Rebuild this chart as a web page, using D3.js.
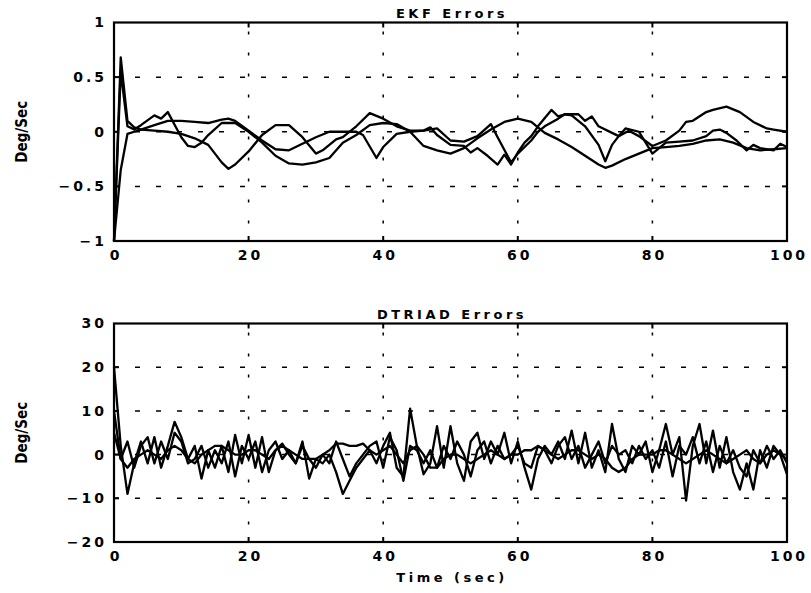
<!DOCTYPE html>
<html>
<head>
<meta charset="utf-8">
<script src="https://cdn.jsdelivr.net/npm/d3@7"></script>
<style>
    body { margin: 0; background: #fff; }
    svg { display: block; background: #fff; }
    .tick-label { font-family: "DejaVu Sans", sans-serif; font-weight: bold; font-size: 14px; letter-spacing: 3px; fill: #000; }
    .title { font-family: "DejaVu Sans", sans-serif; font-weight: bold; font-size: 13px; letter-spacing: 3.5px; fill: #000; }
    .ylabel { font-family: "Liberation Sans Narrow", "DejaVu Sans Condensed", sans-serif; font-weight: bold; font-size: 15px; fill: #000; }
</style>
</head>
<body>
<svg id="chart" width="811" height="593"></svg>
<script>
// EKF errors, [time (sec), deg/sec]
const ekfRoll = [[0,-1],[1,0.55],[2,0.05],[3,0.02],[4,0.06],[6,0.15],[7,0.12],[8,0.18],[10,-0.05],[11,-0.13],[12,-0.14],[13,-0.1],[14,-0.03],[16,0.08],[18,0.08],[20,0],[22,-0.1],[24,-0.22],[26,-0.29],[28,-0.3],[30,-0.28],[32,-0.24],[34,-0.1],[36,-0.03],[38,0.06],[40,0.08],[42,0.07],[44,0],[46,-0.13],[48,-0.17],[50,-0.2],[52,-0.15],[54,-0.06],[56,0.02],[58,0.09],[60,0.12],[62,0.09],[64,-0.01],[66,-0.07],[68,-0.14],[70,-0.22],[72,-0.3],[73,-0.33],[74,-0.31],[76,-0.25],[78,-0.2],[80,-0.15],[82,-0.14],[84,-0.13],[86,-0.11],[88,-0.08],[90,-0.07],[92,-0.1],[94,-0.15],[96,-0.17],[98,-0.16],[100,-0.15]];
const ekfPitch = [[0,-1],[1,-0.35],[2,-0.02],[3,0],[4,0.02],[6,0.06],[8,0.1],[10,0.1],[12,0.09],[14,0.08],[16,0.11],[17,0.12],[18,0.1],[20,0.01],[22,-0.08],[24,-0.16],[26,-0.17],[28,-0.11],[30,-0.05],[32,0],[34,0],[36,0],[37,-0.03],[39,-0.24],[40,-0.14],[42,-0.02],[44,0],[46,0.01],[47,0.04],[48,-0.03],[50,-0.12],[52,-0.13],[53,-0.19],[54,-0.15],[55.5,-0.22],[57,-0.3],[58,-0.21],[59,-0.3],[60,-0.19],[61,-0.1],[62,-0.04],[63,0.05],[65,0.2],[66,0.14],[67,0.16],[69,0.16],[70,0.1],[71,0.14],[72,0.05],[74,-0.01],[75,-0.04],[76.5,0.01],[78,-0.04],[80,-0.13],[82,-0.08],[84,0.01],[85,0.09],[86,0.1],[88,0.18],[89,0.2],[91,0.23],[93,0.18],[95,0.09],[97,0.03],[98,0.02],[100,0]];
const ekfYaw = [[0,-1],[1,0.68],[2,0.1],[3,0.04],[4,0.02],[6,0.01],[8,0],[10,-0.02],[12,-0.06],[14,-0.12],[16,-0.28],[17,-0.34],[18,-0.3],[20,-0.18],[22,-0.03],[24,0.06],[26,0.06],[28,-0.05],[30,-0.2],[31,-0.17],[33,-0.07],[34,-0.05],[36,0.05],[38,0.17],[40,0.12],[42,0.05],[44,0.01],[46,0.01],[48,0.03],[50,-0.08],[52,-0.09],[54,-0.04],[56,0.07],[57,-0.05],[59,-0.28],[60,-0.2],[62,-0.08],[63,0],[64,0.05],[66,0.12],[67,0.16],[68,0.15],[70,0.05],[72,-0.12],[73,-0.27],[74,-0.12],[75,-0.04],[76,0.03],[78,0],[80,-0.2],[82,-0.1],[84,-0.09],[86,-0.08],[88,-0.04],[89,0.01],[90,0.02],[91,-0.01],[92.5,-0.08],[94,-0.17],[95,-0.12],[96,-0.15],[98,-0.17],[99,-0.11],[100,-0.14]];

// DTRIAD errors, one sample per second from 0 to 100 sec
const triadTimes = d3.range(0, 101);
const triadRoll = [20,2,-9,-2,3,-2,4,-3,2,7.5,
    4,-1,2,-5.5,1,-3,2,-4,4.5,-2,
    4.5,-3,4,-4,1,2.5,0,-2,3,-5.5,
    -1,-2,0,-4,-9,-6,-3,-1,1,-2,
    2,5,-3,-5,10.5,2,-4.5,-2,6.5,-3,
    6.5,-2,-6,3,5,-1,3,0,5,-2,
    3,-3,-8,-1,2,0,3,-1,5.5,-2,
    5,-3,1,-4,7,-1,-4,2,0,3,
    -4,1,7,0,4,-10.5,2,7,-2,5.5,
    -3,4,-4,-8,-2,-8,1,-3,2,0,
    -4.5];
const triadPitch = [10,-1,3,-3,2,4,-2,3,-1,5,
    3,-2,-1,2,-3,1,-2,3,-5,2,
    -1,3,-4,1,3,-1,1,-2,2,-1,
    -3,0,-2,3,-1,-5,-2,0,2,3,
    -3,4,1,-6,2,1,-2,1,-3,2,
    -1,3,0,-5,1,3,-2,2,-1,0,
    2,-2,-3,2,1,-2,2,4,-1,2,
    -3,0,3,-2,2,0,1,-2,2,-1,
    1,-3,3,-5,2,0,4,-2,3,-4,
    2,-2,1,-3,-5,1,-2,2,-1,1,
    -2];
const triadYaw = [5,-1,-3,-1,0,1,0,-1,1,2,
    1,-1,-2,0,1,2,2,1,0,0,
    1,1,0,-1,1,2,1,0,-1,-1,
    -1,0,1,2.5,2.5,2,2,2.5,1,0,
    1,2,0,-2,1,2,0,-3,-3,-1,
    0,0,-1,-2,-1,0,1,0,-1,0,
    0,1,1,2,1,0,-1,0,1,1,
    0,-1,0,-1,-3,-4,-3,-1,0,0,
    0,1,1,0,-1,-2,-1,0,1,0,
    -1,-2,-1,0,1,-1,-2,0,1,0,
    -1];

const xTicks = [0, 20, 40, 60, 80, 100];
const ekfTicks = [-1, -0.5, 0, 0.5, 1];
const triadTicks = [-20, -10, 0, 10, 20, 30];

const svg = d3.select('#chart');

const plotLeft = 114, plotRight = 787;

/**
 * Draws one framed panel with dashed grid, tick labels and the three error traces
 */
function drawPanel(opts) {
    const x = d3.scaleLinear().domain([0, 100]).range([plotLeft, plotRight]);
    const y = d3.scaleLinear().domain(opts.yDomain).range([opts.bottom, opts.top]);
    const g = svg.append('g');

    // dashed grid
    g.append('g')
        .selectAll('line')
        .data(opts.yTicks.slice(1, -1))
        .join('line')
        .attr('x1', plotLeft).attr('x2', plotRight)
        .attr('y1', d => y(d)).attr('y2', d => y(d))
        .attr('stroke', '#000')
        .attr('stroke-width', 1.5)
        .attr('stroke-dasharray', '5,16');

    g.append('g')
        .selectAll('line')
        .data(xTicks.slice(1, -1))
        .join('line')
        .attr('x1', d => x(d)).attr('x2', d => x(d))
        .attr('y1', opts.top).attr('y2', opts.bottom)
        .attr('stroke', '#000')
        .attr('stroke-width', 1.5)
        .attr('stroke-dasharray', '3,18')
        .attr('stroke-dashoffset', -9);

    // inner tick marks on all four sides
    const ticks = g.append('g').attr('stroke', '#000').attr('stroke-width', 2);
    xTicks.slice(1, -1).forEach(t => {
        ticks.append('line').attr('x1', x(t)).attr('x2', x(t)).attr('y1', opts.top).attr('y2', opts.top + 5);
        ticks.append('line').attr('x1', x(t)).attr('x2', x(t)).attr('y1', opts.bottom).attr('y2', opts.bottom - 5);
    });
    opts.yTicks.slice(1, -1).forEach(t => {
        ticks.append('line').attr('x1', plotRight).attr('x2', plotRight - 5).attr('y1', y(t)).attr('y2', y(t));
        ticks.append('line').attr('x1', plotLeft).attr('x2', plotLeft + 5).attr('y1', y(t)).attr('y2', y(t));
    });

    // traces
    const line = d3.line()
        .x(d => x(d[0]))
        .y(d => y(d[1]));

    g.append('g')
        .attr('fill', 'none')
        .attr('stroke', '#000')
        .attr('stroke-width', 2.3)
        .attr('stroke-linejoin', 'round')
        .selectAll('path')
        .data(opts.series)
        .join('path')
        .attr('d', line);

    // frame
    g.append('rect')
        .attr('x', plotLeft).attr('y', opts.top)
        .attr('width', plotRight - plotLeft).attr('height', opts.bottom - opts.top)
        .attr('fill', 'none')
        .attr('stroke', '#000')
        .attr('stroke-width', 2.2);

    // axis labels
    const yAxis = g.append('g')
        .attr('transform', `translate(${plotLeft},0)`)
        .call(d3.axisLeft(y).tickValues(opts.yTicks).tickSize(0).tickPadding(10).tickFormat(d3.format('')));
    const xAxis = g.append('g')
        .attr('transform', `translate(0,${opts.bottom})`)
        .call(d3.axisBottom(x).tickValues(xTicks).tickSize(0).tickPadding(9).tickFormat(d3.format('')));
    [yAxis, xAxis].forEach(a => {
        a.select('.domain').remove();
        a.attr('font-family', null).attr('font-size', null);
        a.selectAll('text').attr('class', 'tick-label');
    });
    yAxis.selectAll('text').attr('dx', 3);
    xAxis.selectAll('text').attr('dx', 1.5);

    g.append('text')
        .attr('class', 'title')
        .attr('x', (plotLeft + plotRight) / 2 + 1.5)
        .attr('y', opts.top - 5)
        .attr('text-anchor', 'middle')
        .text(opts.title);

    g.append('text')
        .attr('class', 'ylabel')
        .attr('transform', `translate(27,${(opts.top + opts.bottom) / 2}) rotate(-90)`)
        .attr('text-anchor', 'middle')
        .text('Deg/Sec');
}

drawPanel({
    title: 'EKF Errors',
    top: 22.5,
    bottom: 241,
    yDomain: [-1, 1],
    yTicks: ekfTicks,
    series: [ekfRoll, ekfPitch, ekfYaw]
});

drawPanel({
    title: 'DTRIAD Errors',
    top: 323.5,
    bottom: 542,
    yDomain: [-20, 30],
    yTicks: triadTicks,
    series: [triadRoll, triadPitch, triadYaw].map(vals => vals.map((v, i) => [triadTimes[i], v]))
});

svg.append('text')
    .attr('class', 'title')
    .attr('x', (plotLeft + plotRight) / 2 + 1.5)
    .attr('y', 582)
    .attr('text-anchor', 'middle')
    .text('Time (sec)');
</script>
</body>
</html>
